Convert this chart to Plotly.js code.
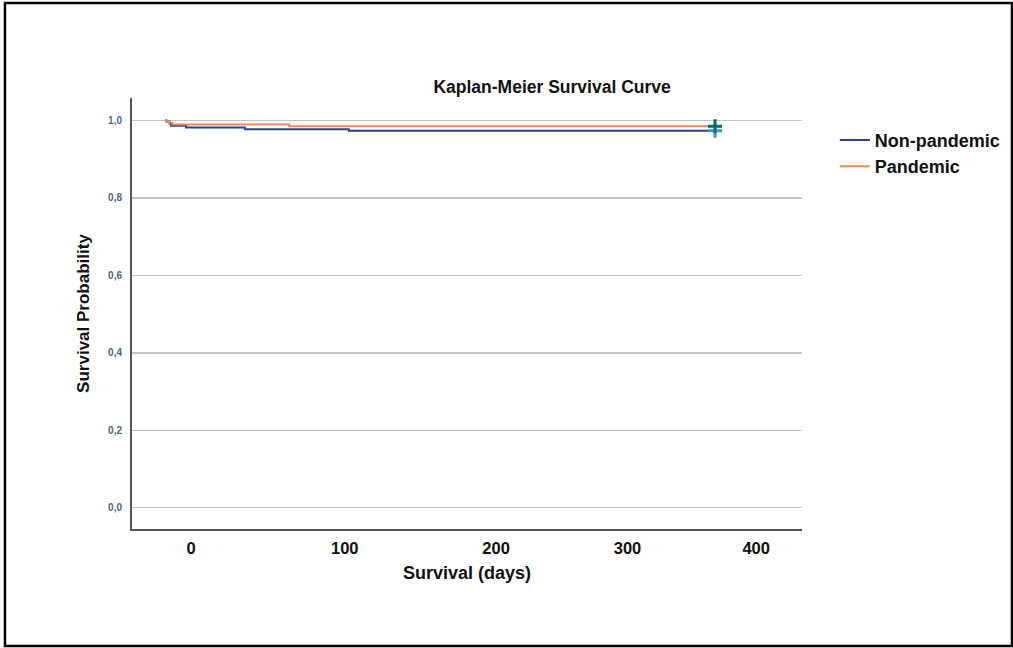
<!DOCTYPE html>
<html>
<head>
<meta charset="utf-8">
<script src="https://cdn.plot.ly/plotly-3.0.1.min.js"></script>
<style>html,body{margin:0;padding:0;background:#fff;}#chart{width:1013px;height:648px;}</style>
</head>
<body>
<div id="chart"></div>
<script>
// Survival times (days) and probabilities
var nonPandemicTime = [0, 1, 3, 4, 14, 53, 122, 365];
var nonPandemicSurv = [1.0, 0.997, 0.992, 0.9863, 0.982, 0.9775, 0.9737, 0.9737];
var pandemicTime = [0, 1, 3, 5, 82.5, 365];
var pandemicSurv = [1.0, 0.997, 0.994, 0.9897, 0.9853, 0.9853];
var censorTime = [365];
var nonPandemicCensor = [0.9737];
var pandemicCensor = [0.9853];
// Tick labels on the x axis and where they sit on the day scale
var xTickText = ['0', '100', '200', '300', '400'];
var xTickVals = [17.3, 119.3, 219.7, 306.9, 392.3];
var yTickVals = [0, 0.2, 0.4, 0.6, 0.8, 1.0];

var font = 'Arial, "Liberation Sans", sans-serif';

var traces = [
  {x: nonPandemicTime, y: nonPandemicSurv, type: 'scatter', mode: 'lines', name: 'Non-pandemic',
   line: {shape: 'hv', color: '#2b3f8f', width: 2}},
  {x: pandemicTime, y: pandemicSurv, type: 'scatter', mode: 'lines', name: 'Pandemic',
   line: {shape: 'hv', color: '#f5875c', width: 2}},
  {x: censorTime, y: nonPandemicCensor, type: 'scatter', mode: 'markers', showlegend: false, hoverinfo: 'skip',
   marker: {symbol: 'cross-thin', size: 10, line: {color: '#2e9be0', width: 3}}},
  {x: censorTime, y: pandemicCensor, type: 'scatter', mode: 'markers', showlegend: false, hoverinfo: 'skip',
   marker: {symbol: 'cross-thin', size: 10, line: {color: '#0e6b66', width: 3}}}
];

var layout = {
  width: 1013, height: 648,
  margin: {l: 132, r: 211, t: 98, b: 119, pad: 0, autoexpand: false},
  paper_bgcolor: '#ffffff', plot_bgcolor: '#ffffff',
  separators: ', ',
  font: {family: font, color: '#000'},
  title: {text: '<b>Kaplan-Meier Survival Curve</b>', font: {size: 17.5, color: '#111'},
          xref: 'paper', x: 0.627, xanchor: 'center', yref: 'container', y: 0.866, yanchor: 'middle'},
  xaxis: {
    range: [-21.9, 422.7], showgrid: false, zeroline: false,
    showline: true, linecolor: '#555', linewidth: 2,
    tickmode: 'array', tickvals: xTickVals, ticktext: xTickText,
    ticks: '', ticklabelstandoff: 3,
    tickfont: {size: 16.5, color: '#111', family: font, weight: 'bold'},
    title: {text: '<b>Survival (days)</b>', font: {size: 18, color: '#111'}, standoff: 11}
  },
  yaxis: {
    range: [-0.055, 1.058], zeroline: false,
    showgrid: true, gridcolor: '#c4c4c4', gridwidth: 1.5,
    showline: true, linecolor: '#555', linewidth: 2,
    tickmode: 'array', tickvals: yTickVals, tickformat: '.1f',
    ticks: '', ticklabelstandoff: 6,
    tickfont: {size: 10, color: '#55627e', family: font, weight: 'bold'},
    title: {text: '<b>Survival Probability</b>', font: {size: 17, color: '#111'}, standoff: 14}
  },
  legend: {x: 1.049, xanchor: 'left', y: 0.945, yanchor: 'top', bgcolor: 'rgba(0,0,0,0)',
           font: {size: 18, color: '#111', family: font, weight: 'bold'}},
  shapes: [
    {type: 'rect', xref: 'paper', yref: 'paper', x0: -0.1896, x1: 1.3134, y0: -0.2715, y1: 1.2204,
     line: {color: '#000', width: 2.5}, fillcolor: 'rgba(0,0,0,0)', layer: 'below'}
  ],
  showlegend: true
};

Plotly.newPlot('chart', traces, layout, {displayModeBar: false, staticPlot: true});
</script>
</body>
</html>
